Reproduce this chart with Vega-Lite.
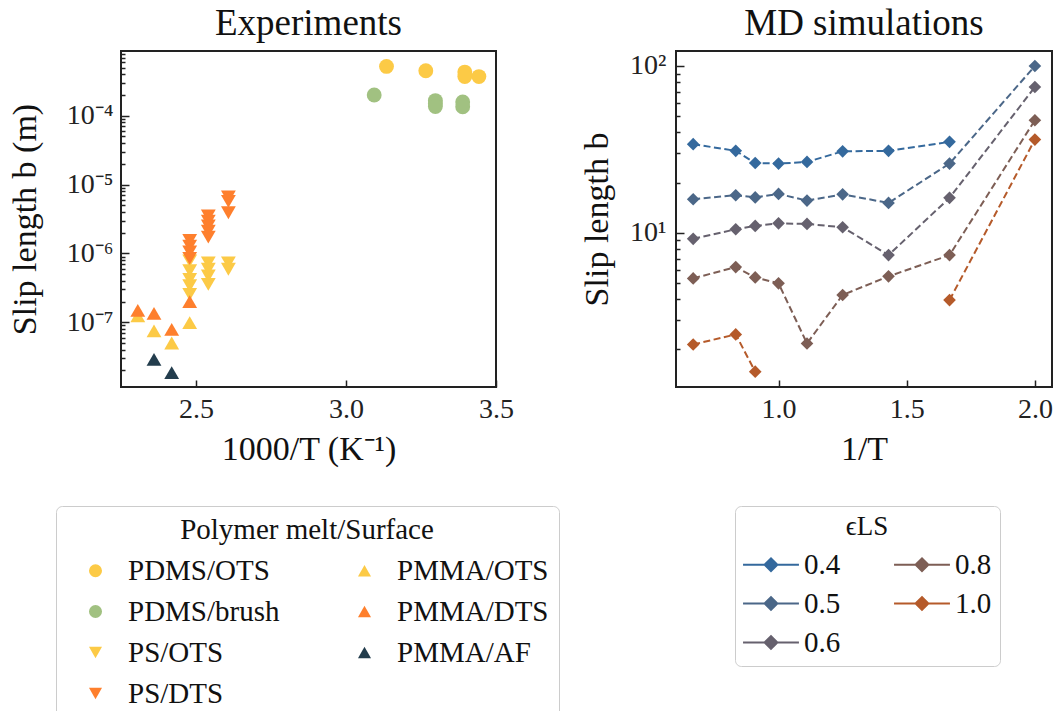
{
  "$schema": "https://vega.github.io/schema/vega-lite/v6.json",
  "background": "white",
  "padding": {"left": 7, "top": 4, "right": 0, "bottom": 0},
  "bounds": "flush",
  "spacing": 180,
  "config": {
    "font": "Liberation Serif",
    "view": {"stroke": "#222222", "strokeWidth": 2},
    "title": {"font": "Liberation Serif", "fontSize": 37, "fontWeight": "normal", "color": "#111111", "anchor": "middle", "frame": "group", "offset": 8},
    "axis": {
      "domain": false,
      "grid": false,
      "labelFont": "Liberation Serif",
      "labelFontSize": 28,
      "labelColor": "#222222",
      "labelOverlap": false,
      "labelFlush": false,
      "titleFont": "Liberation Serif",
      "titleFontSize": 34,
      "titleFontWeight": "normal",
      "titleColor": "#111111",
      "tickColor": "#222222",
      "tickWidth": 1.5
    },
    "legend": {
      "labelFont": "Liberation Serif",
      "labelFontSize": 29,
      "labelColor": "#111111",
      "titleFont": "Liberation Serif",
      "titleFontSize": 29,
      "titleFontWeight": "normal",
      "titleColor": "#111111",
      "titleAnchor": "middle",
      "titleLimit": 500,
      "strokeColor": "#cccccc",
      "fillColor": "white",
      "cornerRadius": 6
    }
  },
  "datasets": {
    "exp": [
      {"group": "PDMS/OTS", "x": 3.135, "b": 0.00052},
      {"group": "PDMS/OTS", "x": 3.266, "b": 0.00045},
      {"group": "PDMS/OTS", "x": 3.396, "b": 0.00043},
      {"group": "PDMS/OTS", "x": 3.396, "b": 0.00037},
      {"group": "PDMS/OTS", "x": 3.443, "b": 0.00037},
      {"group": "PDMS/brush", "x": 3.094, "b": 0.0002},
      {"group": "PDMS/brush", "x": 3.298, "b": 0.000166},
      {"group": "PDMS/brush", "x": 3.298, "b": 0.00015},
      {"group": "PDMS/brush", "x": 3.298, "b": 0.000136},
      {"group": "PDMS/brush", "x": 3.389, "b": 0.000158},
      {"group": "PDMS/brush", "x": 3.389, "b": 0.000135},
      {"group": "PS/OTS", "x": 2.479, "b": 7.8e-7},
      {"group": "PS/OTS", "x": 2.479, "b": 5.6e-7},
      {"group": "PS/OTS", "x": 2.479, "b": 4.2e-7},
      {"group": "PS/OTS", "x": 2.479, "b": 3.4e-7},
      {"group": "PS/OTS", "x": 2.479, "b": 2.55e-7},
      {"group": "PS/OTS", "x": 2.541, "b": 7.3e-7},
      {"group": "PS/OTS", "x": 2.541, "b": 5.9e-7},
      {"group": "PS/OTS", "x": 2.541, "b": 4.7e-7},
      {"group": "PS/OTS", "x": 2.541, "b": 3.55e-7},
      {"group": "PS/OTS", "x": 2.608, "b": 7.3e-7},
      {"group": "PS/OTS", "x": 2.608, "b": 5.9e-7},
      {"group": "PS/DTS", "x": 2.479, "b": 1.55e-6},
      {"group": "PS/DTS", "x": 2.479, "b": 1.28e-6},
      {"group": "PS/DTS", "x": 2.479, "b": 1.05e-6},
      {"group": "PS/DTS", "x": 2.479, "b": 8.5e-7},
      {"group": "PS/DTS", "x": 2.541, "b": 3.5e-6},
      {"group": "PS/DTS", "x": 2.541, "b": 2.95e-6},
      {"group": "PS/DTS", "x": 2.541, "b": 2.5e-6},
      {"group": "PS/DTS", "x": 2.541, "b": 2.1e-6},
      {"group": "PS/DTS", "x": 2.541, "b": 1.73e-6},
      {"group": "PS/DTS", "x": 2.608, "b": 6.6e-6},
      {"group": "PS/DTS", "x": 2.608, "b": 5.7e-6},
      {"group": "PS/DTS", "x": 2.608, "b": 3.9e-6},
      {"group": "PMMA/OTS", "x": 2.306, "b": 1.24e-7},
      {"group": "PMMA/OTS", "x": 2.36, "b": 7.5e-8},
      {"group": "PMMA/OTS", "x": 2.419, "b": 5.0e-8},
      {"group": "PMMA/OTS", "x": 2.479, "b": 9.9e-8},
      {"group": "PMMA/DTS", "x": 2.306, "b": 1.49e-7},
      {"group": "PMMA/DTS", "x": 2.36, "b": 1.35e-7},
      {"group": "PMMA/DTS", "x": 2.419, "b": 7.9e-8},
      {"group": "PMMA/DTS", "x": 2.479, "b": 2.0e-7},
      {"group": "PMMA/AF", "x": 2.36, "b": 2.9e-8},
      {"group": "PMMA/AF", "x": 2.419, "b": 1.86e-8}
    ],
    "md": [
      {"eps": "0.4", "seg": "0.4", "x": 0.667, "b": 34.0},
      {"eps": "0.4", "seg": "0.4", "x": 0.833, "b": 31.0},
      {"eps": "0.4", "seg": "0.4", "x": 0.909, "b": 26.2},
      {"eps": "0.4", "seg": "0.4", "x": 1.0, "b": 26.0},
      {"eps": "0.4", "seg": "0.4", "x": 1.111, "b": 26.6},
      {"eps": "0.4", "seg": "0.4", "x": 1.25, "b": 30.8},
      {"eps": "0.4", "seg": "0.4", "x": 1.429, "b": 31.0},
      {"eps": "0.4", "seg": "0.4", "x": 1.667, "b": 35.1},
      {"eps": "0.5", "seg": "0.5", "x": 0.667, "b": 15.9},
      {"eps": "0.5", "seg": "0.5", "x": 0.833, "b": 16.8},
      {"eps": "0.5", "seg": "0.5", "x": 0.909, "b": 16.3},
      {"eps": "0.5", "seg": "0.5", "x": 1.0, "b": 17.1},
      {"eps": "0.5", "seg": "0.5", "x": 1.111, "b": 15.6},
      {"eps": "0.5", "seg": "0.5", "x": 1.25, "b": 17.0},
      {"eps": "0.5", "seg": "0.5", "x": 1.429, "b": 15.1},
      {"eps": "0.5", "seg": "0.5", "x": 1.667, "b": 26.0},
      {"eps": "0.5", "seg": "0.5", "x": 2.0, "b": 100},
      {"eps": "0.6", "seg": "0.6", "x": 0.667, "b": 9.2},
      {"eps": "0.6", "seg": "0.6", "x": 0.833, "b": 10.5},
      {"eps": "0.6", "seg": "0.6", "x": 0.909, "b": 11.0},
      {"eps": "0.6", "seg": "0.6", "x": 1.0, "b": 11.4},
      {"eps": "0.6", "seg": "0.6", "x": 1.111, "b": 11.3},
      {"eps": "0.6", "seg": "0.6", "x": 1.25, "b": 10.8},
      {"eps": "0.6", "seg": "0.6", "x": 1.429, "b": 7.35},
      {"eps": "0.6", "seg": "0.6", "x": 1.667, "b": 16.2},
      {"eps": "0.6", "seg": "0.6", "x": 2.0, "b": 74.8},
      {"eps": "0.8", "seg": "0.8", "x": 0.667, "b": 5.33},
      {"eps": "0.8", "seg": "0.8", "x": 0.833, "b": 6.23},
      {"eps": "0.8", "seg": "0.8", "x": 0.909, "b": 5.4},
      {"eps": "0.8", "seg": "0.8", "x": 1.0, "b": 4.98},
      {"eps": "0.8", "seg": "0.8", "x": 1.111, "b": 2.17},
      {"eps": "0.8", "seg": "0.8", "x": 1.25, "b": 4.24},
      {"eps": "0.8", "seg": "0.8", "x": 1.429, "b": 5.48},
      {"eps": "0.8", "seg": "0.8", "x": 1.667, "b": 7.35},
      {"eps": "0.8", "seg": "0.8", "x": 2.0, "b": 47.3},
      {"eps": "1.0", "seg": "1.0a", "x": 0.667, "b": 2.14},
      {"eps": "1.0", "seg": "1.0a", "x": 0.833, "b": 2.46},
      {"eps": "1.0", "seg": "1.0a", "x": 0.909, "b": 1.47},
      {"eps": "1.0", "seg": "1.0b", "x": 1.667, "b": 3.95},
      {"eps": "1.0", "seg": "1.0b", "x": 2.0, "b": 36.2}
    ]
  },
  "hconcat": [
    {
      "width": 375,
      "height": 336,
      "title": "Experiments",
      "data": {"name": "exp"},
      "mark": {"type": "point", "filled": true, "opacity": 1, "size": 220},
      "encoding": {
        "x": {
          "field": "x",
          "type": "quantitative",
          "title": "1000/T (K⁻¹)",
          "scale": {"domain": [2.25, 3.5], "nice": false, "zero": false},
          "axis": {"values": [2.5, 3.0, 3.5], "format": ".1f", "tickSize": -7, "labelPadding": 15, "titlePadding": 9}
        },
        "y": {
          "field": "b",
          "type": "quantitative",
          "title": "Slip length b (m)",
          "scale": {"type": "log", "domain": [1.15e-8, 0.00087], "nice": false},
          "axis": {
            "values": [2e-8, 3e-8, 4e-8, 5e-8, 6e-8, 7e-8, 8e-8, 9e-8, 1e-7, 2e-7, 3e-7, 4e-7, 5e-7, 6e-7, 7e-7, 8e-7, 9e-7, 1e-6, 2e-6, 3e-6, 4e-6, 5e-6, 6e-6, 7e-6, 8e-6, 9e-6, 1e-5, 2e-5, 3e-5, 4e-5, 5e-5, 6e-5, 7e-5, 8e-5, 9e-5, 0.0001, 0.0002, 0.0003, 0.0004, 0.0005, 0.0006, 0.0007, 0.0008],
            "labelExpr": "datum.value == 0.0001 ? '10⁻⁴' : datum.value == 0.00001 ? '10⁻⁵' : datum.value == 0.000001 ? '10⁻⁶' : datum.value == 0.0000001 ? '10⁻⁷' : ''",
            "labelFontSize": {"condition": {"test": "datum.value == 0.0001 || datum.value == 0.00001 || datum.value == 0.000001 || datum.value == 0.0000001", "value": 28}, "value": 0},
            "tickSize": {"condition": {"test": "datum.value == 0.0001 || datum.value == 0.00001 || datum.value == 0.000001 || datum.value == 0.0000001", "value": -8}, "value": -4},
            "labelPadding": 16,
            "titlePadding": 24
          }
        },
        "color": {
          "field": "group",
          "type": "nominal",
          "title": "Polymer melt/Surface",
          "scale": {
            "domain": ["PDMS/OTS", "PDMS/brush", "PS/OTS", "PS/DTS", "PMMA/OTS", "PMMA/DTS", "PMMA/AF"],
            "range": ["#FCCA46", "#A1C181", "#FCCA46", "#FE7F2D", "#FCCA46", "#FE7F2D", "#233D4D"]
          },
          "legend": {"orient": "none", "legendX": -65, "legendY": 455, "padding": 10, "columns": 2, "columnPadding": 55, "rowPadding": 11, "symbolSize": 170, "symbolOffset": 15, "labelOffset": 18, "titlePadding": 11}
        },
        "shape": {
          "field": "group",
          "type": "nominal",
          "title": "Polymer melt/Surface",
          "scale": {
            "domain": ["PDMS/OTS", "PDMS/brush", "PS/OTS", "PS/DTS", "PMMA/OTS", "PMMA/DTS", "PMMA/AF"],
            "range": ["circle", "circle", "triangle-down", "triangle-down", "triangle-up", "triangle-up", "triangle-up"]
          },
          "legend": {"orient": "none", "legendX": -65, "legendY": 455, "padding": 10, "columns": 2, "columnPadding": 55, "rowPadding": 11, "symbolSize": 170, "symbolOffset": 15, "labelOffset": 18, "titlePadding": 11}
        }
      }
    },
    {
      "width": 376,
      "height": 336,
      "title": "MD simulations",
      "data": {"name": "md"},
      "encoding": {
        "x": {
          "field": "x",
          "type": "quantitative",
          "title": "1/T",
          "scale": {"domain": [0.6, 2.0667], "nice": false, "zero": false},
          "axis": {"values": [1.0, 1.5, 2.0], "format": ".1f", "tickSize": -7, "labelPadding": 15, "titlePadding": 9}
        },
        "y": {
          "field": "b",
          "type": "quantitative",
          "title": "Slip length b",
          "scale": {"type": "log", "domain": [1.19, 123], "nice": false},
          "axis": {
            "values": [2, 3, 4, 5, 6, 7, 8, 9, 10, 20, 30, 40, 50, 60, 70, 80, 90, 100],
            "labelExpr": "datum.value == 10 ? '10¹' : datum.value == 100 ? '10²' : ''",
            "labelFontSize": {"condition": {"test": "datum.value == 10 || datum.value == 100", "value": 28}, "value": 0},
            "tickSize": {"condition": {"test": "datum.value == 10 || datum.value == 100", "value": -8}, "value": -4},
            "labelPadding": 18,
            "titlePadding": 15
          }
        },
        "color": {
          "field": "eps",
          "type": "nominal",
          "title": "ϵLS",
          "scale": {"domain": ["0.4", "0.5", "0.6", "0.8", "1.0"], "range": ["#34699D", "#4B6788", "#66616E", "#7D5E55", "#B55A2A"]},
          "legend": {"orient": "none", "legendX": 59, "legendY": 455, "padding": 8, "columns": 2, "columnPadding": 49, "rowPadding": 9,
            "symbolType": "M-4.3,0L-1,0M1,0L4.3,0M-1,0L0,-1L1,0L0,1Z", "symbolSize": 169, "symbolStrokeWidth": 1.8,
            "titleFontSize": 27, "titlePadding": 9,
            "encode": {"symbols": {"update": {"x": {"value": 28}, "strokeDash": {"value": []}}}, "labels": {"update": {"x": {"value": 61}}}}}
        }
      },
      "layer": [
        {
          "mark": {"type": "line", "strokeDash": [7, 3.5], "strokeWidth": 2},
          "encoding": {"detail": {"field": "seg"}}
        },
        {
          "mark": {"type": "point", "shape": "diamond", "filled": true, "opacity": 1, "size": 160}
        }
      ]
    }
  ],
  "resolve": {
    "scale": {"x": "independent", "y": "independent", "color": "independent", "shape": "independent"},
    "legend": {"color": "independent", "shape": "independent"}
  }
}
